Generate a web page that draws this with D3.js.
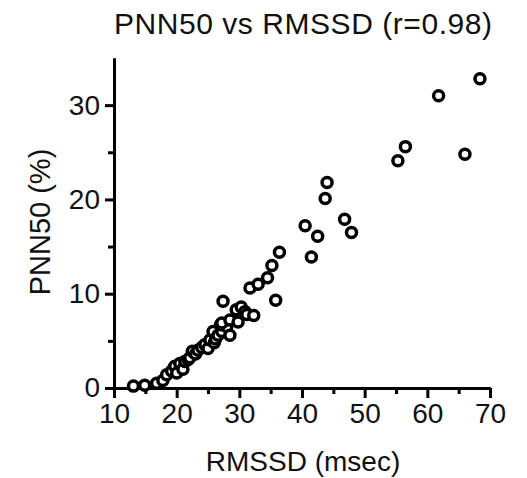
<!doctype html>
<html>
<head>
<style>
  body { margin: 0; background: #fff; }
  text { font-family: "Liberation Sans", Arial, sans-serif; fill: #111; }
</style>
<script src="https://d3js.org/d3.v7.min.js"></script>
</head>
<body>
<div id="chart"></div>
<script>
// RMSSD (msec) and PNN50 (%)
var rmssd = [13.1, 14.9, 16.8, 17.8, 18.4, 19.2, 19.7, 20.0, 20.5, 21.0, 21.3, 21.8, 22.1, 22.5,
             23.0, 23.4, 24.0, 24.5, 25.0, 25.3, 25.8, 26.0, 26.2, 26.6, 27.2, 27.0, 28.0, 28.5,
             27.2, 28.5, 27.4, 29.5, 29.8, 30.3, 30.9, 31.2, 32.3, 31.7, 33.0, 34.5, 35.2, 36.4,
             35.8, 40.5, 41.5, 42.5, 43.7, 44.0, 46.8, 47.9, 55.3, 56.5, 61.8, 66.0, 68.4];
var pnn50 = [0.2, 0.3, 0.5, 0.8, 1.4, 1.8, 2.3, 1.6, 2.6, 2.0, 2.8, 3.0, 3.2, 3.9,
             3.6, 4.0, 4.3, 4.6, 4.2, 5.1, 6.0, 4.8, 5.2, 5.6, 6.0, 6.7, 6.5, 5.6,
             6.9, 7.2, 9.2, 8.3, 7.0, 8.6, 8.1, 7.8, 7.7, 10.6, 11.0, 11.7, 13.0, 14.4,
             9.3, 17.2, 13.9, 16.1, 20.1, 21.8, 17.9, 16.5, 24.1, 25.6, 31.0, 24.8, 32.8];
var xMajor = [10, 20, 30, 40, 50, 60, 70];
var xMinor = [15, 25, 35, 45, 55, 65];
var yMajor = [0, 10, 20, 30];
var yMinor = [5, 15, 25];

var W = 527, H = 478;
var m = {top: 58, right: 37, bottom: 90, left: 114};

var svg = d3.select("#chart").append("svg")
    .attr("width", W).attr("height", H);

var x = d3.scaleLinear().domain([10, 70]).range([m.left, W - m.right]);
var y = d3.scaleLinear().domain([0, 35]).range([H - m.bottom, m.top]);

function styleAxis(g) {
  g.selectAll("path, line").attr("stroke", "#000").attr("stroke-width", 3);
  g.selectAll("text").attr("font-size", 28).attr("fill", "#1a1a1a");
}

// x axis
svg.append("g").attr("transform", "translate(0," + y(0) + ")")
  .call(d3.axisBottom(x).tickValues(xMinor).tickSize(6).tickFormat("").tickSizeOuter(0))
  .call(styleAxis);
svg.append("g").attr("transform", "translate(0," + y(0) + ")")
  .call(d3.axisBottom(x).tickValues(xMajor).tickSize(10).tickPadding(5).tickSizeOuter(0))
  .call(styleAxis);

// y axis
svg.append("g").attr("transform", "translate(" + x(10) + ",0)")
  .call(d3.axisLeft(y).tickValues(yMinor).tickSize(6).tickFormat("").tickSizeOuter(0))
  .call(styleAxis);
svg.append("g").attr("transform", "translate(" + x(10) + ",0)")
  .call(d3.axisLeft(y).tickValues(yMajor).tickSize(9).tickPadding(5).tickSizeOuter(0))
  .call(styleAxis);

// points
svg.append("g").selectAll("circle")
  .data(rmssd)
  .enter().append("circle")
    .attr("cx", function(d) { return x(d); })
    .attr("cy", function(d, i) { return y(pnn50[i]); })
    .attr("r", 5)
    .attr("fill", "#fff")
    .attr("stroke", "#000")
    .attr("stroke-width", 3.5);

// labels
svg.append("text")
  .attr("x", 303).attr("y", 34)
  .attr("text-anchor", "middle")
  .attr("font-size", 30)
  .attr("textLength", 378)
  .text("PNN50 vs RMSSD (r=0.98)");

svg.append("text")
  .attr("x", 303).attr("y", 471)
  .attr("text-anchor", "middle")
  .attr("font-size", 28)
  .text("RMSSD (msec)");

svg.append("text")
  .attr("transform", "translate(50,222) rotate(-90)")
  .attr("text-anchor", "middle")
  .attr("font-size", 29)
  .text("PNN50 (%)");
</script>
</body>
</html>
